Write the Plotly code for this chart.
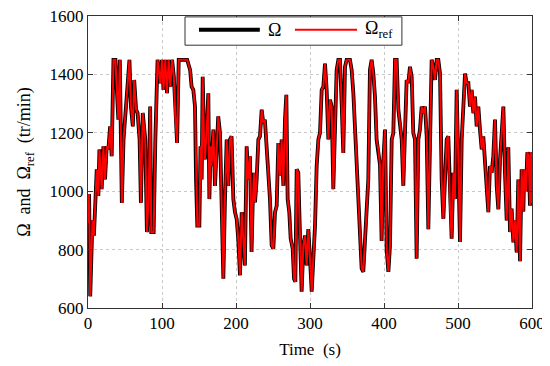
import plotly.graph_objects as go

time_s = [0, 1.5, 3, 4.5, 6, 8, 9.5, 11.8, 14, 15.4, 18.5, 20.8, 23, 25.3, 27.5, 29.9, 32, 34.4, 37, 41, 43,
          45.7, 48, 52.5, 56, 58, 60.6, 62.4, 65, 67, 69.7, 71.5, 74, 77.4, 79.6, 82, 84, 85.5, 88.7, 91, 94,
          97.7, 100, 102, 104.5, 106.8, 109, 111.3, 113.6, 116, 118, 120.4, 122.6, 134, 138, 140, 142.3, 144.6,
          146, 147.7, 150.5, 152, 153.6, 155, 156.8, 158, 160.4, 162.6, 164, 165.8, 167, 169.4, 171.6, 173.9,
          176, 178.4, 180.6, 182.9, 185, 187.4, 189.6, 191.9, 194, 196.4, 198.6, 200.9, 203, 205.4, 207.7,
          209.9, 212, 214.4, 216.7, 218.9, 221, 222.5, 224.3, 225.7, 227.9, 230.2, 232.4, 234.7, 236.9, 239,
          241.4, 243.7, 245.9, 248.2, 250.5, 252.7, 255, 257.2, 259.5, 261.7, 264, 266.2, 268, 269.8, 272,
          273.9, 276.6, 278.4, 280.2, 282, 284.2, 285.6, 287.4, 288.7, 291, 293.2, 295.5, 297.7, 300, 302.3,
          304.5, 306.8, 309, 311.3, 313.5, 315.8, 318, 320.3, 322.5, 324.8, 327, 329.3, 331.5, 333.8, 336,
          338.3, 340.5, 342.8, 345, 347.3, 349.5, 354, 356.3, 358.6, 360.8, 363, 365.3, 367.6, 369.8, 372,
          374.3, 376.6, 378.8, 381, 383.3, 385.6, 387.8, 390, 392.3, 394.6, 396.8, 399, 401.4, 403.6, 405.9,
          408.1, 410.4, 412.6, 414.9, 417.1, 419.4, 421.6, 423.9, 426.1, 428.4, 430.6, 432.9, 435.1, 437.4,
          439.6, 441.9, 444.1, 446.4, 448.6, 450.9, 453.2, 455.4, 457.7, 459.9, 462.2, 464.4, 466.7, 468.9,
          471.2, 473.4, 475.7, 477.9, 480.2, 482.4, 484.7, 486.9, 489.2, 491.4, 493.7, 495.9, 498.2, 500.5,
          502.7, 505, 507.2, 509.5, 511.7, 514, 516.2, 518.5, 520.7, 523, 525.2, 527.5, 529.7, 532, 534.2,
          536.5, 538.7, 541, 543.2, 545.5, 547.7, 550, 552.3, 554.5, 556.8, 559, 561.3, 563.5, 565.8, 568,
          570.3, 572.5, 574.8, 577, 579.3, 581.5, 583.8, 586, 588.3, 589.6, 591.9, 593.7, 595.5, 597.3, 598.6,
          600]

omega_ref = [890, 990, 640, 760, 900, 848, 928, 1075, 984, 1143, 1007, 1154, 1040, 1154, 1143, 1222, 1120, 1450, 1450, 1245, 1450,
             960, 1177, 1347, 1450, 1290, 1222, 1381, 1279, 1268, 1177, 960, 1268, 1177, 860, 973, 1290, 860, 860, 1177, 1450,
             1370, 1450, 1347, 1450, 1336, 1450, 1358, 1450, 1392, 1256, 1165, 1450, 1450, 1415, 1358, 1347, 1290,
             1040, 882, 882, 1154, 1040, 1392, 1177, 1109, 1211, 1335, 973, 1154, 1086, 1211, 1018, 1143,
             1256, 1199, 973, 700, 962, 1177, 1018, 1177, 1188, 973, 928, 905, 837, 712, 928,
             837, 746, 1154, 1040, 1120, 792, 950, 1063, 962, 1040, 1177, 1188, 1279, 1233, 1245,
             1154, 1075, 973, 814, 803, 928, 950, 1165, 1052, 1177, 1018, 1245, 1330, 973, 928,
             837, 803, 700, 690, 1075, 1063, 928, 746, 656, 814, 848, 746, 870, 769, 656,
             769, 882, 1086, 1177, 1199, 1347, 1358, 1437, 1347, 1177, 1313, 1290, 1007, 1233, 1415,
             1450, 1450, 1301, 1131, 1426, 1450, 1450, 1415, 1335, 1222, 1120, 996, 882, 735, 724,
             826, 950, 1040, 1415, 1450, 1403, 1324, 1177, 1143, 1090, 830, 1100, 1211, 800, 724,
             814, 1177, 1199, 1450, 1450, 1279, 1233, 1177, 1018, 1199, 1381, 1370, 1426, 1392,
             1199, 1177, 769, 1177, 1211, 1290, 1267, 1290, 1188, 870, 1143, 1450, 1426, 1381,
             1450, 1450, 1403, 1040, 905, 1063, 1177, 1188, 950, 837, 1063, 973, 1347, 1109,
             826, 1177, 1301, 1403, 1370, 1370, 1290, 1347, 1267, 1324, 1222, 1290, 1211, 1143, 1188,
             1109, 1040, 928, 1086, 1063, 1120, 1245, 1018, 938, 1109, 1199, 1290, 1063, 900, 1150,
             860, 940, 825, 900, 790, 1040, 760, 1075, 930, 1075, 1000, 1133, 1120, 950, 1133,
             960]

omega = list(omega_ref)

x_ticks = [0, 100, 200, 300, 400, 500, 600]
y_ticks = [600, 800, 1000, 1200, 1400, 1600]
legend_labels = ["Ω", "Ω<sub>ref</sub>"]

serif = "Liberation Serif"

fig = go.Figure()
fig.add_trace(go.Scatter(x=time_s, y=omega, mode="lines", name=legend_labels[0],
                         line=dict(color="black", width=3.8), showlegend=False))
fig.add_trace(go.Scatter(x=time_s, y=omega_ref, mode="lines", name=legend_labels[1],
                         line=dict(color="red", width=2), showlegend=False))

axis_common = dict(showline=True, linecolor="#333333", linewidth=1, mirror="ticks",
                   ticks="inside", ticklen=5, tickcolor="#333333", automargin=False,
                   ticklabeloverflow="allow",
                   showgrid=True, gridcolor="#c8c8c8", griddash="dot", gridwidth=1,
                   zeroline=False, tickfont=dict(family=serif, size=17, color="black"))

fig.update_xaxes(range=[0, 600], tickvals=x_ticks, ticktext=[str(v) for v in x_ticks],
                 title=dict(text="Time  (s)", font=dict(family=serif, size=17, color="black"), standoff=10),
                 **axis_common)
fig.update_yaxes(range=[600, 1600], tickvals=y_ticks, ticktext=[str(v) for v in y_ticks],
                 title=dict(text="Ω  and  Ω<sub>ref</sub>  (tr/min)", font=dict(family=serif, size=18, color="black"), standoff=14),
                 **axis_common)

# manual legend box (as in the original figure)
fig.add_shape(type="rect", xref="paper", yref="paper", x0=0.2185, x1=0.707, y0=0.90, y1=0.997,
              line=dict(color="#333333", width=1), fillcolor="white", layer="above")
fig.add_shape(type="line", xref="paper", yref="paper", x0=0.25, x1=0.387, y0=0.953, y1=0.953,
              line=dict(color="black", width=4), layer="above")
fig.add_shape(type="line", xref="paper", yref="paper", x0=0.466, x1=0.606, y0=0.953, y1=0.953,
              line=dict(color="red", width=2), layer="above")
fig.add_annotation(xref="paper", yref="paper", x=0.402, y=0.953, xanchor="left", yanchor="middle",
                   text=legend_labels[0], showarrow=False, font=dict(family=serif, size=18, color="black"))
fig.add_annotation(xref="paper", yref="paper", x=0.619, y=0.953, xanchor="left", yanchor="middle",
                   text=legend_labels[1], showarrow=False, font=dict(family=serif, size=18, color="black"))

# the page body has an 8px default margin, so the figure is sized to fit inside the window
fig.update_layout(
    width=542, height=358,
    margin=dict(l=80, r=18, t=8, b=58),
    paper_bgcolor="white", plot_bgcolor="white",
    font=dict(family=serif, color="black"),
    showlegend=False,
)

fig.write_html("out.html")
